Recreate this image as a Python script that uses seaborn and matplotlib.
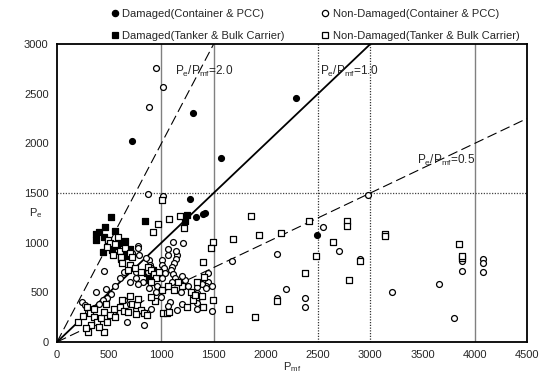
import numpy as np
import pandas as pd
import matplotlib
matplotlib.use("Agg")
import matplotlib.pyplot as plt
import seaborn as sns
from matplotlib.lines import Line2D

sns.set_style("white")
plt.rcParams["font.family"] = ["Liberation Sans", "DejaVu Sans"]
plt.rcParams["mathtext.default"] = "regular"

# Damaged, container ships & PCC
dmg_cont_pmf = [720, 1300, 1570, 2290, 1270, 2490, 1400, 1420, 1330]
dmg_cont_pe = [2020, 2310, 1850, 2460, 1440, 1080, 1290, 1300, 1260]

# Damaged, tankers & bulk carriers
dmg_tank_pmf = [520, 460, 555, 375, 450, 375, 650, 600, 530, 440, 700, 630, 615,
                680, 845, 1225, 1245, 860, 890, 880, 920, 490, 570, 400]
dmg_tank_pe = [1260, 1160, 1120, 1090, 1060, 1030, 1020, 1000, 930, 905, 940, 880, 840,
               870, 1220, 1220, 1280, 690, 660, 620, 720, 990, 970, 1110]

# Non-damaged, container ships & PCC
nd_cont_pmf = [950, 1015, 880, 870, 1015, 1110, 1680, 2550, 2110, 2700, 2900, 2190,
               2110, 2375, 2375, 3210, 2980, 1446, 1446, 1427, 1484, 1484, 3878, 3878,
               4079, 4079, 4079, 3658, 3801, 450, 600, 373, 470, 240, 670, 830,
               776, 776, 785, 880, 890, 900, 870, 1005, 1010, 1020, 1030, 1010,
               1149, 1140, 1120, 1100, 1090, 1110, 1130, 1100, 1226, 1200, 1340, 1340,
               1345, 1340, 1340, 1390, 1430, 1150, 960, 950, 880, 820, 780, 760,
               700, 640, 560, 520, 480, 440, 400, 350, 300, 270, 640, 700, 760, 820,
               900, 1080, 1060, 1000, 1190, 1250, 1300, 1200, 720, 700, 760, 1060,
               1060, 1140, 1210, 852]
nd_cont_pe = [2760, 2570, 2370, 1490, 1470, 1010, 816, 1160, 886, 916, 836, 534,
              443, 443, 352, 504, 1480, 695, 604, 564, 564, 312, 816, 715,
              836, 795, 705, 584, 242, 715, 645, 504, 534, 403, 201, 171,
              967, 947, 876, 826, 780, 740, 700, 826, 780, 740, 690, 640,
              876, 840, 800, 760, 720, 680, 640, 600, 624, 660, 554, 494,
              440, 390, 330, 580, 540, 322, 560, 500, 540, 600, 580, 640,
              600, 700, 560, 480, 440, 420, 380, 340, 300, 370, 420, 380, 330, 300,
              330, 400, 360, 450, 500, 560, 470, 380, 900, 780, 700, 880,
              940, 920, 1000, 846]

# Non-damaged, tankers & bulk carriers
nd_tank_pmf = [1857, 1494, 1475, 1685, 1934, 2145, 2413, 2777, 2777, 2643, 2480, 2375,
               2796, 1398, 1408, 1388, 1494, 1398, 1647, 1896, 2106, 2901, 3140, 3140,
               3849, 3878, 3878, 1178, 1072, 967, 919, 1216, 1010,
               488, 508, 480, 600, 560, 650, 700, 610, 540, 720, 580,
               620, 700, 750, 680, 800, 870, 900, 930, 950, 900, 980,
               200, 300, 450, 287, 316, 350, 380, 330, 280, 420, 450, 480, 510, 550,
               600, 640, 680, 720, 770, 800, 830, 760, 560, 400, 250, 470, 350, 620,
               700, 780, 862, 1015, 1050, 1070, 1245, 1300, 1280, 1320, 1010, 1060,
               1120, 940, 900, 1200, 1160, 1340]
nd_tank_pe = [1269, 1007, 947, 1037, 1078, 1098, 1219, 1219, 1168, 1007, 866, 695,
              624, 806, 655, 463, 423, 352, 332, 252, 413, 816, 1088, 1068,
              987, 846, 866, 1269, 1239, 1188, 1108, 1148, 1430,
              1027, 997, 957, 916, 990, 950, 900, 860, 880, 860, 1060,
              800, 780, 750, 720, 700, 760, 720, 680, 640, 600, 700,
              200, 100, 100, 352, 292, 250, 200, 170, 140, 240, 300, 200, 270, 330,
              350, 310, 300, 380, 370, 320, 290, 280, 250, 150, 260, 380, 330, 420,
              460, 430, 272, 292, 292, 300, 352, 420, 500, 470, 520, 560,
              520, 410, 450, 560, 600, 600]

groups = [
    ("Damaged(Container & PCC)", dmg_cont_pmf, dmg_cont_pe, "o", "black"),
    ("Damaged(Tanker & Bulk Carrier)", dmg_tank_pmf, dmg_tank_pe, "s", "black"),
    ("Non-Damaged(Container & PCC)", nd_cont_pmf, nd_cont_pe, "o", "white"),
    ("Non-Damaged(Tanker & Bulk Carrier)", nd_tank_pmf, nd_tank_pe, "s", "white"),
]

ratio_lines = [2.0, 1.0, 0.5]
solid_grid_x = [1000, 1500, 4000]
dotted_grid_x = [2500, 3000]
dotted_grid_y = [1500]

fig = plt.figure(figsize=(5.45, 3.73), dpi=100)
ax = fig.add_axes([0.1046, 0.0831, 0.8624, 0.7989])

for gx in solid_grid_x:
    ax.axvline(gx, color="#808080", lw=1.0, zorder=1)
for gx in dotted_grid_x:
    ax.axvline(gx, color="#333333", lw=0.9, ls=(0, (1, 1.2)), zorder=1)
for gy in dotted_grid_y:
    ax.axhline(gy, color="#444444", lw=0.9, ls=(0, (1, 1.2)), zorder=1)

xs = np.array([0, 4500])
ax.plot(xs, ratio_lines[0] * xs, color="black", lw=0.8, ls=(0, (9, 4)), zorder=2)
ax.plot(xs, ratio_lines[1] * xs, color="black", lw=1.3, ls="-", zorder=2)
ax.plot(xs, ratio_lines[2] * xs, color="black", lw=0.8, ls=(0, (9, 4)), zorder=2)

frames = []
for label, px, py, mk, fc in groups:
    frames.append(pd.DataFrame({"Pmf": px, "Pe": py, "group": label}))
df = pd.concat(frames, ignore_index=True)

handles = []
for label, px, py, mk, fc in groups:
    sub = df[df["group"] == label]
    sns.scatterplot(data=sub, x="Pmf", y="Pe", marker=mk, s=18,
                    facecolor=fc, edgecolor="black", linewidth=0.9,
                    ax=ax, zorder=3, legend=False)
    handles.append(Line2D([], [], ls="none", marker=mk, markersize=4.5,
                          markerfacecolor=fc, markeredgecolor="black",
                          markeredgewidth=0.9, label=label))

ax.set_xlim(0, 4500)
ax.set_ylim(0, 3000)
ax.set_xticks(np.arange(0, 4501, 500))
ax.set_yticks(np.arange(0, 3001, 500))
ax.tick_params(direction="in", length=3, width=0.8, labelsize=8, pad=6)
for sp in ax.spines.values():
    sp.set_color("black")
    sp.set_linewidth(1.3)

ax.set_xlabel("$P_{mf}$", fontsize=8, labelpad=0)
ax.set_ylabel("$P_e$", fontsize=8, rotation=0, labelpad=8)
ax.yaxis.set_label_coords(-0.045, 0.41)

ax.text(1130, 2690, "$P_e/P_{mf}$=2.0", fontsize=8.5)
ax.text(2520, 2690, "$P_e/P_{mf}$=1.0", fontsize=8.5)
ax.text(3450, 1790, "$P_e/P_{mf}$=0.5", fontsize=8.5)

fig.legend(handles=handles, loc="upper left", bbox_to_anchor=(0.19, 0.993),
           ncol=2, frameon=False, fontsize=8, handlelength=0.8,
           handletextpad=0.3, columnspacing=3.2, labelspacing=1.05,
           borderaxespad=0.2)

fig.savefig("out.png", dpi=100)
